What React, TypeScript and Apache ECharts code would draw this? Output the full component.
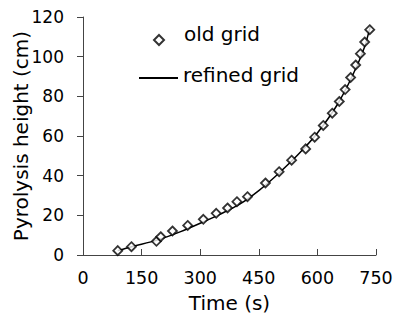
import React, { useEffect, useRef } from "react";
import * as echarts from "echarts";

const oldTime = [89, 124, 188, 199, 229, 268, 308, 341, 370, 394, 421, 467, 502, 534, 570, 593, 615, 638, 656, 671, 685, 698, 710, 721, 734];
const oldHeight = [2.2, 4.2, 6.9, 9.2, 12.1, 14.9, 18.0, 21.0, 23.7, 26.9, 29.4, 36.3, 42.0, 47.8, 53.5, 59.4, 65.3, 71.5, 77.4, 83.4, 89.5, 95.8, 101.5, 107.4, 113.6];

const refTime = [89, 124, 190, 250, 300, 350, 400, 450, 500, 550, 600, 650, 690, 720, 735];
const refHeight = [2.2, 4.2, 7.5, 11.8, 16.0, 20.5, 25.5, 32.5, 41.0, 50.5, 61.5, 75.5, 90.5, 104.5, 115.0];

const xTicks = [0, 150, 300, 450, 600, 750];
const yTicks = [0, 20, 40, 60, 80, 100, 120];

const FONT = "DejaVu Sans, Arial, sans-serif";

export default function App() {
  const ref = useRef<HTMLDivElement>(null);
  useEffect(() => {
    if (!ref.current) return;
    const chart = echarts.init(ref.current, undefined, { renderer: "svg" });
    const oldData = oldTime.map((t, i) => [t, oldHeight[i]]);
    const refData = refTime.map((t, i) => [t, refHeight[i]]);
    chart.setOption({
      animation: false,
      backgroundColor: "#fff",
      textStyle: { fontFamily: FONT, color: "#000" },
      grid: { left: 83, right: 22, top: 17, bottom: 65, containLabel: false, outerBoundsMode: "none" },
      legend: [
        {
          data: [{ name: "old grid", icon: "path://M5,0 L5,0.01 M5,12 L10,17 L5,22 L0,17 Z" }],
          left: 153,
          top: 22,
          padding: 0,
          itemWidth: 10,
          itemHeight: 22,
          textStyle: { fontFamily: FONT, fontSize: 20, color: "#000", padding: [0, 0, 0, 15] },
        },
        {
          data: [{ name: "refined grid", icon: "path://M0,0 L0,0.01 M0,6 L39,6 L39,8 L0,8 Z" }],
          left: 139,
          top: 65,
          padding: 0,
          itemWidth: 39,
          itemHeight: 8,
          textStyle: { fontFamily: FONT, fontSize: 20, color: "#000" },
        },
      ],
      xAxis: {
        type: "value",
        min: xTicks[0],
        max: xTicks[xTicks.length - 1],
        interval: 150,
        name: "Time (s)",
        nameLocation: "middle",
        nameGap: 38,
        nameMoveOverlap: false,
        nameTextStyle: { fontFamily: FONT, fontSize: 20, color: "#000" },
        axisLine: { onZero: false, lineStyle: { color: "#444", width: 1 } },
        axisTick: { show: true, inside: true, length: 6, lineStyle: { color: "#444" } },
        axisLabel: { fontFamily: FONT, fontSize: 17.5, color: "#000", margin: 14 },
        splitLine: { show: false },
      },
      yAxis: {
        type: "value",
        min: yTicks[0],
        max: yTicks[yTicks.length - 1],
        interval: 20,
        name: "Pyrolysis height (cm)",
        nameLocation: "middle",
        nameGap: 52,
        nameMoveOverlap: false,
        nameTextStyle: { fontFamily: FONT, fontSize: 20, color: "#000" },
        axisLine: { show: true, onZero: false, lineStyle: { color: "#444", width: 1 } },
        axisTick: { show: true, inside: false, length: 6, lineStyle: { color: "#444" } },
        axisLabel: { fontFamily: FONT, fontSize: 17, color: "#000", margin: 19 },
        splitLine: { show: false },
      },
      series: [
        {
          name: "refined grid",
          type: "line",
          data: refData,
          symbol: "none",
          smooth: 0.3,
          lineStyle: { color: "#000", width: 1.5 },
          itemStyle: { color: "#000" },
          z: 2,
        },
        {
          name: "old grid",
          type: "scatter",
          data: oldData,
          symbol: "diamond",
          symbolSize: 9,
          itemStyle: { color: "#fff", borderColor: "#000", borderWidth: 1.8 },
          z: 3,
        },
      ],
    });
    return () => chart.dispose();
  }, []);
  return <div ref={ref} style={{ width: 398, height: 320, position: "absolute", left: 0, top: 0 }} />;
}
